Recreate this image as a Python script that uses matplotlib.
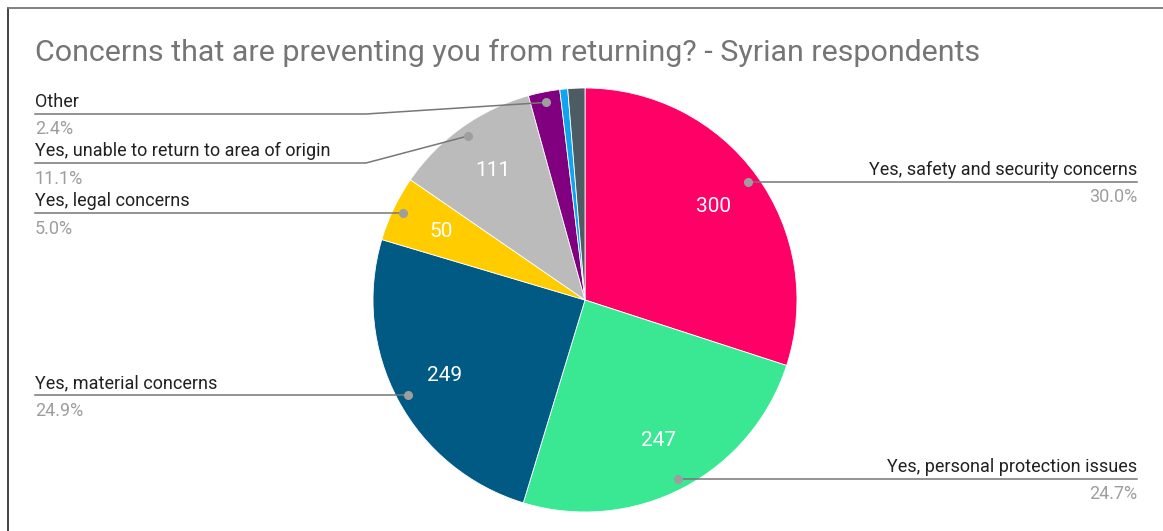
import numpy as np
import matplotlib
matplotlib.use("Agg")
import matplotlib.pyplot as plt
from matplotlib.lines import Line2D

plt.rcParams['font.family'] = ['Roboto', 'DejaVu Sans']

# ---- data ----
categories = [
    "Yes, safety and security concerns",
    "Yes, personal protection issues",
    "Yes, material concerns",
    "Yes, legal concerns",
    "Yes, unable to return to area of origin",
    "Other",
    "No",
    "Prefer not to say",
]
values = [300, 247, 249, 50, 111, 24, 6, 13]
colors = ["#FF0066", "#3AE894", "#015A84", "#FFCC00", "#BBBBBB",
          "#800080", "#0EA5F0", "#4D5B62"]
show_callout = [True, True, True, True, True, True, False, False]
title = "Concerns that are preventing you from returning? - Syrian respondents"

W, H = 1163, 531
fig = plt.figure(figsize=(W / 100, H / 100), dpi=100)
ax = fig.add_axes([0, 0, 1, 1])

def Y(y):
    return H - y

cx, cy, R = 585, Y(300), 212
total = sum(values)

def fmt(pct):
    v = int(round(pct * total / 100.0))
    return f"{v}" if v >= 50 else ""

wedges, texts, autotexts = ax.pie(
    values, colors=colors, startangle=90, counterclock=False,
    center=(cx, cy), radius=R, autopct=fmt, pctdistance=0.75,
    wedgeprops=dict(edgecolor="white", linewidth=0.6),
    textprops=dict(color="white", fontsize=15),
)
ax.set_xlim(0, W)
ax.set_ylim(0, H)
ax.set_aspect('equal')
ax.axis('off')

# callouts
line_col = "#777777"
dot_col = "#9E9E9E"
right_x = 1137
left_x = 35
bend_x = 366
override_y = {5: Y(114), 4: Y(163)}
for i, w in enumerate(wedges):
    if not show_callout[i]:
        continue
    th = np.deg2rad((w.theta1 + w.theta2) / 2.0)
    dx = cx + 0.95 * R * np.cos(th)
    dy = cy + 0.95 * R * np.sin(th)
    pct = values[i] / total * 100
    ax.plot([dx], [dy], marker='o', ms=5.5, color=dot_col, zorder=5)
    if np.cos(th) > 0:
        ax.plot([dx, right_x], [dy, dy], color=line_col, lw=1.1, zorder=4)
        ax.text(right_x, dy + 12, categories[i], ha='right', va='center',
                fontsize=13, color="#212121")
        ax.text(right_x, dy - 15.5, f"{pct:.1f}%", ha='right', va='center',
                fontsize=13, color="#9E9E9E")
    else:
        ly = override_y.get(i, dy)
        if i in override_y:
            ax.plot([dx, bend_x, left_x], [dy, ly, ly], color=line_col, lw=1.1, zorder=4)
        else:
            ax.plot([dx, left_x], [ly, ly], color=line_col, lw=1.1, zorder=4)
        ax.text(left_x, ly + 12, categories[i], ha='left', va='center',
                fontsize=13, color="#212121")
        ax.text(left_x, ly - 15.5, f"{pct:.1f}%", ha='left', va='center',
                fontsize=13, color="#9E9E9E")

ax.text(35, Y(53), title, ha='left', va='center', fontsize=21.9, color="#757575")

# frame border
fig.add_artist(Line2D([8 / W, 8 / W], [0, 1 - 8 / H], transform=fig.transFigure,
                      color="#333333", lw=1.3))
fig.add_artist(Line2D([8 / W, 1], [1 - 8 / H, 1 - 8 / H], transform=fig.transFigure,
                      color="#777777", lw=1.3))

fig.savefig("out.png", dpi=100)
